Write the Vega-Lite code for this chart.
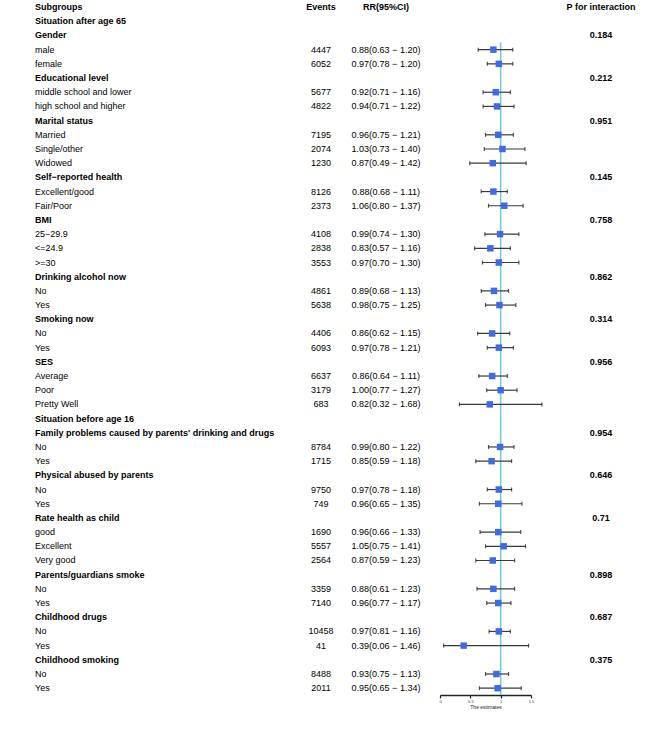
{
  "$schema": "https://vega.github.io/schema/vega-lite/v6.json",
  "padding": {"left": 35, "top": 0, "right": 0, "bottom": 0},
  "spacing": 0,
  "background": "white",
  "config": {
    "view": {"stroke": null},
    "font": "Liberation Sans",
    "text": {"font": "Liberation Sans", "fontSize": 9, "color": "black", "baseline": "middle"}
  },
  "data": {"values": [
    {"row": 0, "kind": "header", "label": "Subgroups", "events": "Events", "rr": "RR(95%CI)", "p": "P for interaction"},
    {"row": 1, "kind": "section", "label": "Situation after age 65"},
    {"row": 2, "kind": "group", "label": "Gender", "p": "0.184"},
    {"row": 3, "kind": "item", "label": "male", "events": "4447", "rr": "0.88(0.63 − 1.20)", "est": 0.88, "lo": 0.63, "hi": 1.20},
    {"row": 4, "kind": "item", "label": "female", "events": "6052", "rr": "0.97(0.78 − 1.20)", "est": 0.97, "lo": 0.78, "hi": 1.20},
    {"row": 5, "kind": "group", "label": "Educational level", "p": "0.212"},
    {"row": 6, "kind": "item", "label": "middle school and lower", "events": "5677", "rr": "0.92(0.71 − 1.16)", "est": 0.92, "lo": 0.71, "hi": 1.16},
    {"row": 7, "kind": "item", "label": "high school and higher", "events": "4822", "rr": "0.94(0.71 − 1.22)", "est": 0.94, "lo": 0.71, "hi": 1.22},
    {"row": 8, "kind": "group", "label": "Marital status", "p": "0.951"},
    {"row": 9, "kind": "item", "label": "Married", "events": "7195", "rr": "0.96(0.75 − 1.21)", "est": 0.96, "lo": 0.75, "hi": 1.21},
    {"row": 10, "kind": "item", "label": "Single/other", "events": "2074", "rr": "1.03(0.73 − 1.40)", "est": 1.03, "lo": 0.73, "hi": 1.40},
    {"row": 11, "kind": "item", "label": "Widowed", "events": "1230", "rr": "0.87(0.49 − 1.42)", "est": 0.87, "lo": 0.49, "hi": 1.42},
    {"row": 12, "kind": "group", "label": "Self−reported health", "p": "0.145"},
    {"row": 13, "kind": "item", "label": "Excellent/good", "events": "8126", "rr": "0.88(0.68 − 1.11)", "est": 0.88, "lo": 0.68, "hi": 1.11},
    {"row": 14, "kind": "item", "label": "Fair/Poor", "events": "2373", "rr": "1.06(0.80 − 1.37)", "est": 1.06, "lo": 0.80, "hi": 1.37},
    {"row": 15, "kind": "group", "label": "BMI", "p": "0.758"},
    {"row": 16, "kind": "item", "label": "25−29.9", "events": "4108", "rr": "0.99(0.74 − 1.30)", "est": 0.99, "lo": 0.74, "hi": 1.30},
    {"row": 17, "kind": "item", "label": "<=24.9", "events": "2838", "rr": "0.83(0.57 − 1.16)", "est": 0.83, "lo": 0.57, "hi": 1.16},
    {"row": 18, "kind": "item", "label": ">=30", "events": "3553", "rr": "0.97(0.70 − 1.30)", "est": 0.97, "lo": 0.70, "hi": 1.30},
    {"row": 19, "kind": "group", "label": "Drinking alcohol now", "p": "0.862"},
    {"row": 20, "kind": "item", "label": "No", "events": "4861", "rr": "0.89(0.68 − 1.13)", "est": 0.89, "lo": 0.68, "hi": 1.13},
    {"row": 21, "kind": "item", "label": "Yes", "events": "5638", "rr": "0.98(0.75 − 1.25)", "est": 0.98, "lo": 0.75, "hi": 1.25},
    {"row": 22, "kind": "group", "label": "Smoking now", "p": "0.314"},
    {"row": 23, "kind": "item", "label": "No", "events": "4406", "rr": "0.86(0.62 − 1.15)", "est": 0.86, "lo": 0.62, "hi": 1.15},
    {"row": 24, "kind": "item", "label": "Yes", "events": "6093", "rr": "0.97(0.78 − 1.21)", "est": 0.97, "lo": 0.78, "hi": 1.21},
    {"row": 25, "kind": "group", "label": "SES", "p": "0.956"},
    {"row": 26, "kind": "item", "label": "Average", "events": "6637", "rr": "0.86(0.64 − 1.11)", "est": 0.86, "lo": 0.64, "hi": 1.11},
    {"row": 27, "kind": "item", "label": "Poor", "events": "3179", "rr": "1.00(0.77 − 1.27)", "est": 1.00, "lo": 0.77, "hi": 1.27},
    {"row": 28, "kind": "item", "label": "Pretty Well", "events": "683", "rr": "0.82(0.32 − 1.68)", "est": 0.82, "lo": 0.32, "hi": 1.68},
    {"row": 29, "kind": "section", "label": "Situation before age 16"},
    {"row": 30, "kind": "group", "label": "Family problems caused by parents' drinking and drugs", "p": "0.954"},
    {"row": 31, "kind": "item", "label": "No", "events": "8784", "rr": "0.99(0.80 − 1.22)", "est": 0.99, "lo": 0.80, "hi": 1.22},
    {"row": 32, "kind": "item", "label": "Yes", "events": "1715", "rr": "0.85(0.59 − 1.18)", "est": 0.85, "lo": 0.59, "hi": 1.18},
    {"row": 33, "kind": "group", "label": "Physical abused by parents", "p": "0.646"},
    {"row": 34, "kind": "item", "label": "No", "events": "9750", "rr": "0.97(0.78 − 1.18)", "est": 0.97, "lo": 0.78, "hi": 1.18},
    {"row": 35, "kind": "item", "label": "Yes", "events": "749", "rr": "0.96(0.65 − 1.35)", "est": 0.96, "lo": 0.65, "hi": 1.35},
    {"row": 36, "kind": "group", "label": "Rate health as child", "p": "0.71"},
    {"row": 37, "kind": "item", "label": "good", "events": "1690", "rr": "0.96(0.66 − 1.33)", "est": 0.96, "lo": 0.66, "hi": 1.33},
    {"row": 38, "kind": "item", "label": "Excellent", "events": "5557", "rr": "1.05(0.75 − 1.41)", "est": 1.05, "lo": 0.75, "hi": 1.41},
    {"row": 39, "kind": "item", "label": "Very good", "events": "2564", "rr": "0.87(0.59 − 1.23)", "est": 0.87, "lo": 0.59, "hi": 1.23},
    {"row": 40, "kind": "group", "label": "Parents/guardians smoke", "p": "0.898"},
    {"row": 41, "kind": "item", "label": "No", "events": "3359", "rr": "0.88(0.61 − 1.23)", "est": 0.88, "lo": 0.61, "hi": 1.23},
    {"row": 42, "kind": "item", "label": "Yes", "events": "7140", "rr": "0.96(0.77 − 1.17)", "est": 0.96, "lo": 0.77, "hi": 1.17},
    {"row": 43, "kind": "group", "label": "Childhood drugs", "p": "0.687"},
    {"row": 44, "kind": "item", "label": "No", "events": "10458", "rr": "0.97(0.81 − 1.16)", "est": 0.97, "lo": 0.81, "hi": 1.16},
    {"row": 45, "kind": "item", "label": "Yes", "events": "41", "rr": "0.39(0.06 − 1.46)", "est": 0.39, "lo": 0.06, "hi": 1.46},
    {"row": 46, "kind": "group", "label": "Childhood smoking", "p": "0.375"},
    {"row": 47, "kind": "item", "label": "No", "events": "8488", "rr": "0.93(0.75 − 1.13)", "est": 0.93, "lo": 0.75, "hi": 1.13},
    {"row": 48, "kind": "item", "label": "Yes", "events": "2011", "rr": "0.95(0.65 − 1.34)", "est": 0.95, "lo": 0.65, "hi": 1.34}
  ]},
  "hconcat": [
    {
      "width": 265, "height": 695,
      "encoding": {
        "x": {"value": 0},
        "y": {"field": "row", "type": "quantitative", "axis": null,
              "scale": {"domain": [-0.5, 48.48], "reverse": true, "nice": false, "zero": false}},
        "text": {"field": "label"}
      },
      "layer": [
        {"transform": [{"filter": "datum.kind !== 'item'"}],
         "mark": {"type": "text", "align": "left", "fontWeight": "bold"}},
        {"transform": [{"filter": "datum.kind === 'item'"}],
         "mark": {"type": "text", "align": "left", "fontWeight": "normal"}}
      ]
    },
    {
      "width": 42, "height": 695,
      "encoding": {
        "y": {"field": "row", "type": "quantitative", "axis": null,
              "scale": {"domain": [-0.5, 48.48], "reverse": true, "nice": false, "zero": false}},
        "text": {"field": "events"}
      },
      "layer": [
        {"transform": [{"filter": "datum.kind === 'header'"}],
         "mark": {"type": "text", "align": "center", "fontWeight": "bold"}},
        {"transform": [{"filter": "datum.kind === 'item'"}],
         "mark": {"type": "text", "align": "center", "fontWeight": "normal"}}
      ]
    },
    {
      "width": 88, "height": 695,
      "encoding": {
        "y": {"field": "row", "type": "quantitative", "axis": null,
              "scale": {"domain": [-0.5, 48.48], "reverse": true, "nice": false, "zero": false}},
        "text": {"field": "rr"}
      },
      "layer": [
        {"transform": [{"filter": "datum.kind === 'header'"}],
         "mark": {"type": "text", "align": "center", "fontWeight": "bold"}},
        {"transform": [{"filter": "datum.kind === 'item'"}],
         "mark": {"type": "text", "align": "center", "fontWeight": "normal"}}
      ]
    },
    {
      "width": 111, "height": 695,
      "layer": [
        {
          "data": {"values": [{"ref": 1, "top": 2.5, "bottom": 48.48}]},
          "mark": {"type": "rule", "color": "#74c6dc", "strokeWidth": 1.5},
          "encoding": {
            "x": {"field": "ref", "type": "quantitative"},
            "y": {"field": "top", "type": "quantitative"},
            "y2": {"field": "bottom"}
          }
        },
        {
          "transform": [{"filter": "datum.kind === 'item'"}],
          "mark": {"type": "rule", "color": "#3a3a3a", "strokeWidth": 1.2},
          "encoding": {
            "x": {"field": "lo", "type": "quantitative"},
            "x2": {"field": "hi"},
            "y": {"field": "row", "type": "quantitative"}
          }
        },
        {
          "transform": [{"filter": "datum.kind === 'item'"}],
          "mark": {"type": "tick", "orient": "vertical", "color": "#111", "size": 4, "thickness": 1.2},
          "encoding": {
            "x": {"field": "lo", "type": "quantitative"},
            "y": {"field": "row", "type": "quantitative"}
          }
        },
        {
          "transform": [{"filter": "datum.kind === 'item'"}],
          "mark": {"type": "tick", "orient": "vertical", "color": "#111", "size": 4, "thickness": 1.2},
          "encoding": {
            "x": {"field": "hi", "type": "quantitative"},
            "y": {"field": "row", "type": "quantitative"}
          }
        },
        {
          "transform": [{"filter": "datum.kind === 'item'"}],
          "mark": {"type": "square", "color": "#3f6ae3", "filled": true, "opacity": 1, "size": 42},
          "encoding": {
            "x": {"field": "est", "type": "quantitative"},
            "y": {"field": "row", "type": "quantitative"}
          }
        }
      ],
      "encoding": {
        "x": {"type": "quantitative",
              "scale": {"domain": [0, 1.5], "range": [10, 101], "nice": false, "zero": false},
              "axis": {"values": [0, 0.5, 1, 1.5], "labelExpr": "'' + datum.value", "title": "The estimates", "grid": false,
                       "labelFontSize": 4, "titleFontSize": 5, "titleFontWeight": "normal",
                       "labelFont": "Liberation Sans", "titleFont": "Liberation Sans",
                       "domainColor": "#222", "domainWidth": 1.5, "tickColor": "#222", "tickWidth": 1.2,
                       "tickSize": 3, "labelPadding": 1, "titlePadding": 1, "labelColor": "#333", "titleColor": "#222",
                       "labelFlush": false}},
        "y": {"type": "quantitative", "axis": null,
              "scale": {"domain": [-0.5, 48.48], "reverse": true, "nice": false, "zero": false}}
      }
    },
    {
      "width": 116, "height": 695,
      "transform": [{"filter": "isValid(datum.p)"}],
      "mark": {"type": "text", "align": "center", "fontWeight": "bold"},
      "encoding": {
        "y": {"field": "row", "type": "quantitative", "axis": null,
              "scale": {"domain": [-0.5, 48.48], "reverse": true, "nice": false, "zero": false}},
        "text": {"field": "p"}
      }
    }
  ]
}
